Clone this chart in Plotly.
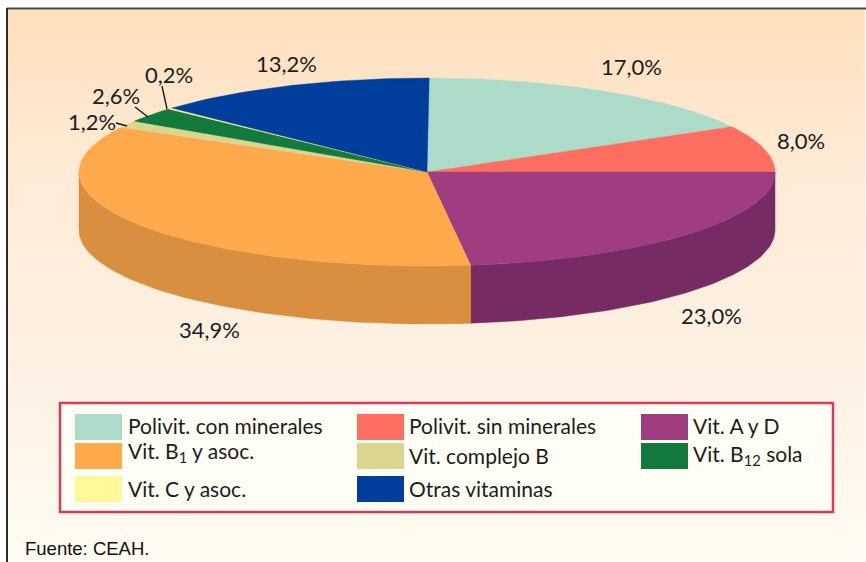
import math
import plotly.graph_objects as go

# ---- data ----
categories = ["Polivit. con minerales", "Polivit. sin minerales", "Vit. A y D",
              "Vit. B<sub>1</sub> y asoc.", "Vit. complejo B", "Vit. B<sub>12</sub> sola",
              "Vit. C y asoc.", "Otras vitaminas"]
values = [17.0, 8.0, 23.0, 34.9, 1.2, 2.6, 0.2, 13.2]
value_labels = ["17,0%", "8,0%", "23,0%", "34,9%", "1,2%", "2,6%", "0,2%", "13,2%"]
source_note = "Fuente: CEAH."

# ---- style ----
top_colors = ["#ACDBCA", "#FF6F61", "#A03C80", "#FFA94D", "#DAD68F", "#127A3C", "#FFF899", "#003E9C"]
side_colors = {2: "#772B63", 3: "#D88F3F"}
W, H = 866, 562
CX, CY, RX, RY, DEPTH = 427, 172, 348, 94, 58
FONT = "Lato"
INK = "#1c1c1c"


def rim(a0, a1, dy=0):
    """Points on the ellipse, from percent a0 to percent a1, clockwise from the top."""
    n = max(4, int(abs(a1 - a0) * 3))
    pts = [a0 + (a1 - a0) * i / n for i in range(n + 1)]
    return ([CX + RX * math.sin(2 * math.pi * p / 100) for p in pts],
            [CY - RY * math.cos(2 * math.pi * p / 100) + dy for p in pts])


fig = go.Figure()

# page background with a vertical gradient
fig.add_trace(go.Scatter(
    x=[8, W - 1, W - 1, 8, 8], y=[10, 10, H, H, 10], mode="lines", fill="toself",
    line=dict(width=0), hoverinfo="skip", showlegend=False,
    fillgradient=dict(type="vertical", colorscale=[
        [0, "#FFFDF3"], [0.3, "#FEF2E5"], [0.7, "#FEEBD7"], [1, "#FEE0BC"]]),
))

# cumulative starts
starts = []
c = 0.0
for v in values:
    starts.append(c)
    c += v

# side wall: the visible part lies between 25 % and 75 % of the turn
for i, v in enumerate(values):
    a0, a1 = max(starts[i], 25), min(starts[i] + v, 75)
    if a1 <= a0 or i not in side_colors:
        continue
    xt, yt = rim(a0, a1)
    xb, yb = rim(a1, a0, DEPTH)
    fig.add_trace(go.Scatter(
        x=xt + xb + xt[:1], y=yt + yb + yt[:1], mode="lines", fill="toself",
        fillcolor=side_colors[i], line=dict(width=0.5, color=side_colors[i]),
        hoverinfo="skip", showlegend=False))

# top face
for i, v in enumerate(values):
    xs, ys = rim(starts[i], starts[i] + v)
    fig.add_trace(go.Scatter(
        x=[CX] + xs + [CX], y=[CY] + ys + [CY], mode="lines", fill="toself",
        fillcolor=top_colors[i], line=dict(width=0.4, color=top_colors[i]),
        name=categories[i], text=value_labels[i], hoverinfo="name+text", showlegend=False))

# leader lines
for (x0, y0, x1, y1) in [(162, 86, 167, 109), (135, 107, 148, 117), (116, 123, 127, 126)]:
    fig.add_shape(type="line", x0=x0, y0=y0, x1=x1, y1=y1, line=dict(color="#111111", width=1.3))

# frame
fig.add_shape(type="line", x0=7, y0=8.5, x1=W, y1=8.5, line=dict(color="#4A4238", width=2))
fig.add_shape(type="line", x0=7, y0=8, x1=7, y1=H, line=dict(color="#2E2A26", width=2))

# legend box
fig.add_shape(type="rect", x0=60, y0=403, x1=833, y1=512, fillcolor="#FFFFF5",
              line=dict(color="#E0385C", width=2.5))
col_sw = [75, 357, 641]
col_tx = [126, 407, 691]
row_sw = [414, 443, 476]
row_tx = [[425, 425, 425], [452, 455, 455], [488, 488, 488]]
for i, name in enumerate(categories):
    r, k = i // 3, i % 3
    fig.add_shape(type="rect", x0=col_sw[k], x1=col_sw[k] + 47, y0=row_sw[r], y1=row_sw[r] + 26,
                  fillcolor=top_colors[i], line=dict(width=0))
    fig.add_annotation(x=col_tx[k], y=row_tx[r][k], text=name, showarrow=False, xanchor="left",
                       yanchor="middle", font=dict(family=FONT, size=21, color=INK))

# value labels
label_pos = [(631, 66), (801, 140), (711, 315), (209, 329), (92, 121), (116, 95), (169, 74), (286, 63)]
for t, (x, y) in zip(value_labels, label_pos):
    fig.add_annotation(x=x, y=y, text=t, showarrow=False,
                       font=dict(family=FONT, size=22, color=INK))

fig.add_annotation(x=23, y=548, text=source_note, showarrow=False, xanchor="left",
                   font=dict(family="Liberation Sans", size=18.5, color="#111111"))

fig.update_layout(
    width=W, height=H, margin=dict(l=0, r=0, t=0, b=0), autosize=False,
    paper_bgcolor="white", plot_bgcolor="rgba(0,0,0,0)", showlegend=False,
    xaxis=dict(range=[0, W], visible=False, fixedrange=True),
    yaxis=dict(range=[H, 0], visible=False, fixedrange=True),
)
fig.write_html("out.html", config={"displayModeBar": False},
               post_script="document.body.style.margin='0';document.body.style.overflow='hidden';")
